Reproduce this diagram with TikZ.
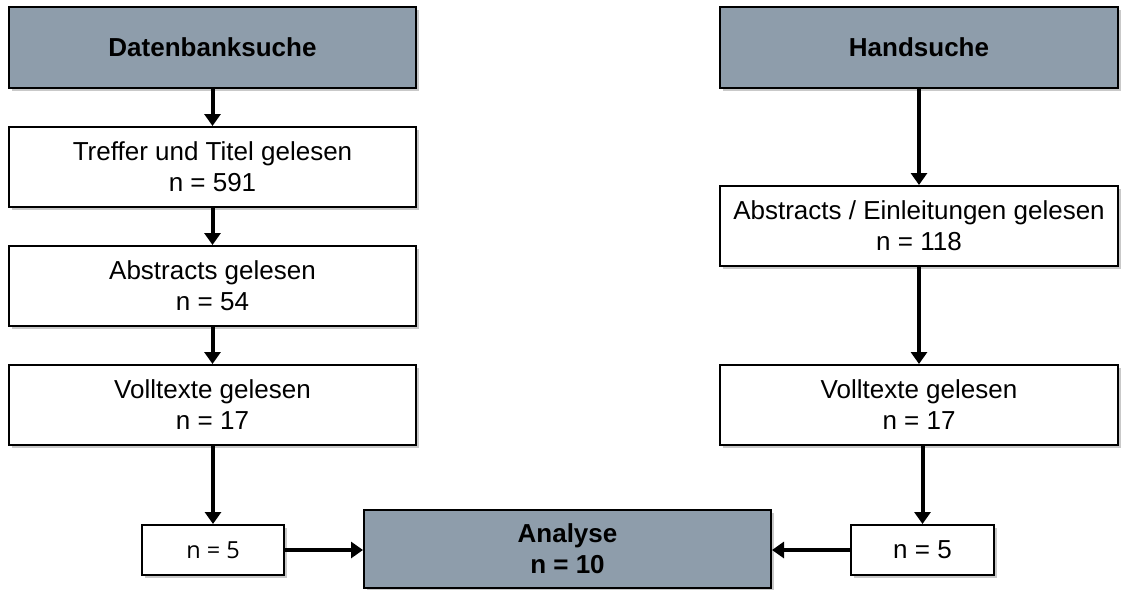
\documentclass[tikz,border=0pt]{standalone}
\usepackage{fontspec}
\setmainfont{Liberation Sans}
\newfontfamily\opensans{Open Sans}
\usetikzlibrary{arrows.meta,shadows}
\definecolor{headgray}{RGB}{142,157,171}
\begin{document}
\begin{tikzpicture}[x=1pt,y=-1pt,
  box/.style={draw=black, line width=2pt, fill=white, inner sep=0pt,
    align=center, font=\fontsize{26}{31}\selectfont,
    drop shadow={shadow xshift=3pt, shadow yshift=-3pt, opacity=0.35, fill=black!60}},
  head/.style={box, fill=headgray, font=\fontsize{26}{31}\selectfont\bfseries},
  conn/.style={line width=4pt, -{Triangle[width=16pt,length=12pt]}}]
\useasboundingbox (0,0) rectangle (1123,589);
\fill[white] (0,0) rectangle (1123,589);
% left column
\node[head, minimum width=407pt, minimum height=81pt] (db) at (212.5,47.5) {Datenbanksuche};
\node[box, minimum width=407pt, minimum height=80pt] (tr) at (212.5,167) {Treffer und Titel gelesen\\n = 591};
\node[box, minimum width=407pt, minimum height=80pt] (ab) at (212.5,286) {Abstracts gelesen\\n = 54};
\node[box, minimum width=407pt, minimum height=80pt] (vl) at (212.5,405) {Volltexte gelesen\\n = 17};
\node[box, minimum width=142pt, minimum height=50pt, font=\opensans\fontsize{23.5}{28}\selectfont] (nl) at (213,550) {n = 5};
% right column
\node[head, minimum width=398pt, minimum height=81pt] (hs) at (919,47.5) {Handsuche};
\node[box, minimum width=398pt, minimum height=80pt] (ae) at (919,226) {Abstracts / Einleitungen gelesen\\n = 118};
\node[box, minimum width=398pt, minimum height=80pt] (vr) at (919,405) {Volltexte gelesen\\n = 17};
\node[box, minimum width=143pt, minimum height=50pt] (nr) at (922.5,550) {n = 5};
% analysis
\node[head, minimum width=407pt, minimum height=78pt, font=\fontsize{26}{31}\selectfont\bfseries] (an) at (567.5,549) {Analyse\\n = 10};
% connectors
\draw[conn] (db.south -| tr.north) -- (tr.north);
\draw[conn] (tr) -- (ab);
\draw[conn] (ab) -- (vl);
\draw[conn] (vl.south -| nl.north) -- (nl.north);
\draw[conn] (nl.east) -- (an.west |- nl.east);
\draw[conn] (hs.south -| ae.north) -- (ae.north);
\draw[conn] (ae) -- (vr);
\draw[conn] (vr.south -| nr.north) -- (nr.north);
\draw[conn] (nr.west) -- (an.east |- nr.west);
\end{tikzpicture}
\end{document}
